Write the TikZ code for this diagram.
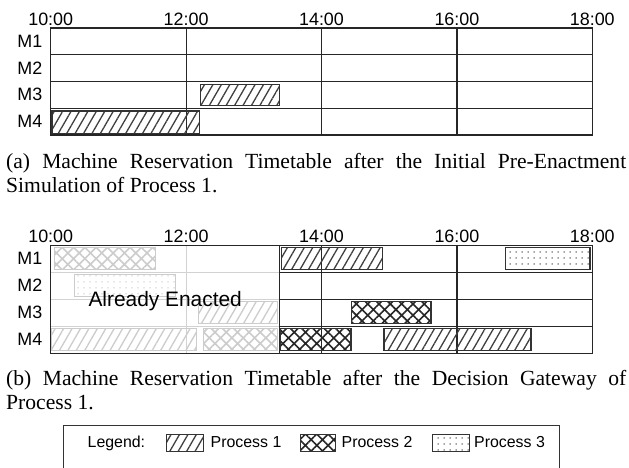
\documentclass[tikz,border=0pt]{standalone}
\usepackage{fontspec}
\setmainfont{Liberation Serif}
\newfontfamily\arialf{Liberation Sans}
\usetikzlibrary{patterns.meta}
\tikzset{
  sanslab/.style={font=\arialf\fontsize{17.9}{20}\selectfont, inner sep=0pt},
  caplab/.style={font=\fontsize{21.6}{24}\selectfont, inner sep=0pt, anchor=base west},
  leglab/.style={font=\arialf\fontsize{15.9}{18}\selectfont, inner sep=0pt, anchor=base west},
  gridblack/.style={line width=1.2pt, black!85},
  gridgray/.style={line width=1.1pt, gray!35},
  frame/.style={line width=1.4pt, black!85},
  pone/.style={draw=black!80, line width=1.1pt, pattern={Lines[angle=60,distance=7.3pt,line width=1.3pt]}, pattern color=black!75},
  ptwo/.style={draw=black!80, line width=1.1pt, pattern={Hatch[angle=45,distance=8pt,line width=1.6pt]}, pattern color=black!85},
  pthree/.style={draw=black!80, line width=1.1pt, pattern={Dots[distance=6pt,radius=0.75pt]}, pattern color=black!75},
  faded/.style={draw=gray!40, pattern color=gray!40},
}
\begin{document}
\begin{tikzpicture}[x=1pt,y=-1pt]
\useasboundingbox (0,0) rectangle (629,468);
\fill[white] (0,0) rectangle (629,468);
% ---------------- chart (a) ----------------
\foreach \y in {54.75,81.5,108.25} \draw[gridblack] (50.7,\y) -- (592.3,\y);
\foreach \x in {186.1,321.5,456.9} \draw[gridblack] (\x,28) -- (\x,135);
\draw[pone] (200.5,84.3) rectangle (279.5,105.8);
\draw[pone] (52,111) rectangle (199.3,133.5);
\draw[frame] (50.7,28) rectangle (592.3,135);
\node[sanslab, anchor=base] (ta1) at (50.7,25.5) {10:00};
\node[sanslab, anchor=base] (ta2) at (186.1,25.5) {12:00};
\node[sanslab, anchor=base] (ta3) at (321.5,25.5) {14:00};
\node[sanslab, anchor=base] (ta4) at (456.9,25.5) {16:00};
\node[sanslab, anchor=base] (ta5) at (592.3,25.5) {18:00};
\node[sanslab, anchor=base east] (ma1) at (42.5,47.3) {M1};
\node[sanslab, anchor=base east] (ma2) at (42.5,74.1) {M2};
\node[sanslab, anchor=base east] (ma3) at (42.5,100.9) {M3};
\node[sanslab, anchor=base east] (ma4) at (42.5,127.6) {M4};
\node[caplab] (capa1) at (6,168) {\makebox[620pt][s]{(a) Machine Reservation Timetable after the Initial Pre-Enactment}};
\node[caplab] (capa2) at (6,192) {Simulation of Process 1.};
% ---------------- chart (b) ----------------
\foreach \y in {272.3,299.3,326.3} \draw[gridgray] (50.7,\y) -- (279.3,\y);
\draw[gridgray] (186.1,245.3) -- (186.1,353.3);
\foreach \y in {272.3,299.3,326.3} \draw[gridblack] (279.3,\y) -- (592.3,\y);
\foreach \x in {321.5,456.9} \draw[gridblack] (\x,245.3) -- (\x,353.3);
\draw[gridblack] (279.3,245.3) -- (279.3,353.3);
% enacted (faded) bars
\draw[ptwo,faded] (54.3,247.8) rectangle (155.7,269.8);
\draw[pthree,faded] (74.3,274.8) rectangle (175.3,296.8);
\draw[pone,faded] (198.5,301.8) rectangle (277.8,323.8);
\draw[pone,faded] (51.8,328.8) rectangle (196.5,350.8);
\draw[ptwo,faded] (203.7,328.8) rectangle (277.8,350.8);
% future bars
\draw[pone] (281.3,247.8) rectangle (382.7,269.8);
\draw[pthree] (505.8,247.8) rectangle (590,269.8);
\draw[ptwo] (351.7,301.8) rectangle (431,323.8);
\draw[ptwo] (280.5,328.8) rectangle (351,350.8);
\draw[pone] (384,328.8) rectangle (531,350.8);
\draw[frame] (50.7,245.3) rectangle (592.3,353.3);
\node[font=\arialf\fontsize{20.9}{22}\selectfont, inner sep=0pt, anchor=base west] (ae) at (88.3,306.7) {Already Enacted};
\node[sanslab, anchor=base] (tb1) at (50.7,242.8) {10:00};
\node[sanslab, anchor=base] (tb2) at (186.1,242.8) {12:00};
\node[sanslab, anchor=base] (tb3) at (321.5,242.8) {14:00};
\node[sanslab, anchor=base] (tb4) at (456.9,242.8) {16:00};
\node[sanslab, anchor=base] (tb5) at (592.3,242.8) {18:00};
\node[sanslab, anchor=base east] (mb1) at (42.5,264.3) {M1};
\node[sanslab, anchor=base east] (mb2) at (42.5,291.3) {M2};
\node[sanslab, anchor=base east] (mb3) at (42.5,318.3) {M3};
\node[sanslab, anchor=base east] (mb4) at (42.5,345.3) {M4};
\node[caplab] (capb1) at (6,385) {\makebox[620pt][s]{(b) Machine Reservation Timetable after the Decision Gateway of}};
\node[caplab] (capb2) at (6,409) {Process 1.};
% ---------------- legend ----------------
\draw[line width=1pt, black!80] (63.3,475) -- (63.3,425) -- (559,425) -- (559,475);
\node[leglab] (lg) at (87.5,447) {Legend:};
\draw[pone, line width=0.9pt] (166.5,434.5) rectangle (203.5,451);
\node[leglab] (l1) at (210.5,447) {Process 1};
\draw[ptwo, line width=0.9pt] (300.5,434.5) rectangle (335.5,451);
\node[leglab] (l2) at (341.5,447) {Process 2};
\draw[pthree, line width=0.9pt] (432,434.5) rectangle (469,451);
\node[leglab] (l3) at (474,447) {Process 3};
\end{tikzpicture}
\end{document}
